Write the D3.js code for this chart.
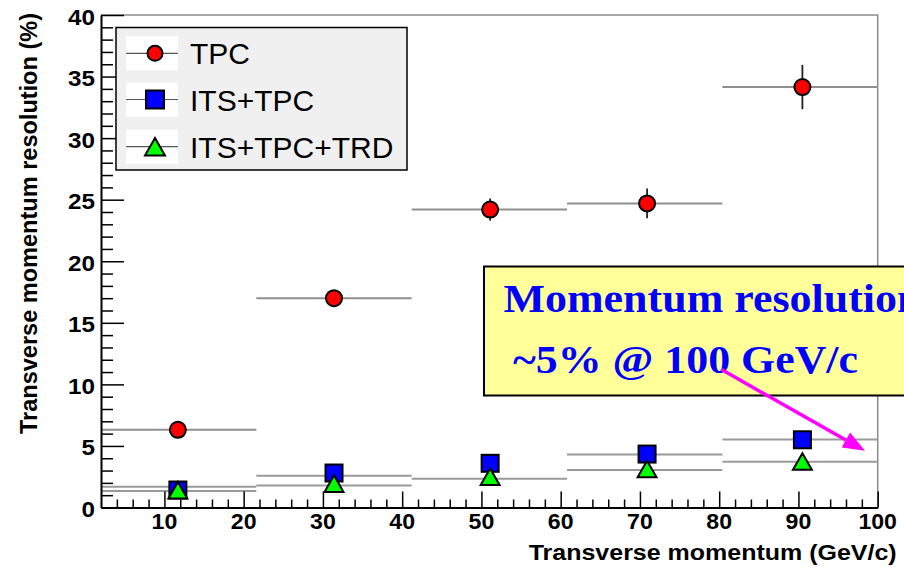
<!DOCTYPE html>
<html><head><meta charset="utf-8">
<script src="https://cdn.jsdelivr.net/npm/d3@7"></script>
<style>html,body{margin:0;padding:0;background:#fff;overflow:hidden}</style>
</head><body>
<svg id="chart" width="904" height="567"></svg>
<script>
// pT bins and point positions (GeV/c)
const binEdges = [2, 21.6, 41.2, 60.8, 80.4, 100];
const ptCenters = [11.7, 31.4, 51.1, 70.9, 90.5];
const seriesNames = ["TPC", "ITS+TPC", "ITS+TPC+TRD"];
// resolution (%) per bin
const tpcValues = [6.31, 17.0, 24.2, 24.7, 34.15];
const tpcErrors = [0.4, 0.5, 0.9, 1.2, 1.8];
const itsTpcValues = [1.42, 2.80, 3.59, 4.34, 5.50];
const itsTpcBinLevels = [1.69, 2.57, null, 4.31, 5.52];
const trdValues = [1.40, 1.94, 2.49, 3.12, 3.74];
const trdBinLevels = [1.34, 1.79, 2.34, 3.04, 3.71];
const xTickLabels = [10, 20, 30, 40, 50, 60, 70, 80, 90, 100];
const yTickLabels = [0, 5, 10, 15, 20, 25, 30, 35, 40];
const xMinorTicks = d3.range(4, 100, 2).filter(v => v % 10 !== 0);
const yMinorTicks = d3.range(1, 40, 1).filter(v => v % 5 !== 0);
const noteLines = ["Momentum resolution", "~5% @ 100 GeV/c"];
const arrowFrom = [80.3, 11.2];
const arrowTo = [98.4, 4.6];

const SANS = "'Liberation Sans', Arial, Helvetica, sans-serif";
const SERIF = "'Liberation Serif', 'Times New Roman', serif";

const svg = d3.select("#chart");
const defs = svg.append("defs");
const x = d3.scaleLinear().domain([2, 100]).range([101, 877.7]);
const y = d3.scaleLinear().domain([0, 40]).range([507.5, 15]);

// frame (top and right edges)
svg.append("path")
  .attr("d", `M${x(2)},${y(40)}H${x(100)}V${y(0)}`)
  .attr("fill", "none").attr("stroke", "#8a8a8a").attr("stroke-width", 1.5);

// horizontal bin-width bars
const binLines = [];
[[tpcValues, "#8f8f8f"], [itsTpcBinLevels, "#9a9a9a"], [trdBinLevels, "#9a9a9a"]].forEach(([vals, col]) => {
  vals.forEach((v, i) => { if (v != null) binLines.push({x0: binEdges[i], x1: binEdges[i + 1], v, col}); });
});
svg.append("g").selectAll("line").data(binLines).join("line")
  .attr("x1", d => x(d.x0)).attr("x2", d => x(d.x1))
  .attr("y1", d => y(d.v)).attr("y2", d => y(d.v))
  .attr("stroke", d => d.col).attr("stroke-width", 2);

// vertical error bars for TPC
svg.append("g").selectAll("line").data(tpcValues).join("line")
  .attr("x1", (d, i) => x(ptCenters[i])).attr("x2", (d, i) => x(ptCenters[i]))
  .attr("y1", (d, i) => y(d - tpcErrors[i])).attr("y2", (d, i) => y(d + tpcErrors[i]))
  .attr("stroke", "#222").attr("stroke-width", 1.8);

// marker shapes
function drawMarker(g, kind, cx, cy, s) {
  if (kind === 0) {
    g.append("circle").attr("cx", cx).attr("cy", cy).attr("r", s)
      .attr("fill", "#ff0000").attr("stroke", "#000").attr("stroke-width", 2);
  } else if (kind === 1) {
    g.append("rect").attr("x", cx - s).attr("y", cy - s).attr("width", 2 * s).attr("height", 2 * s)
      .attr("fill", "#0000ff").attr("stroke", "#000").attr("stroke-width", 2);
  } else {
    const w = s * 1.05, h = s * 0.92;
    g.append("path").attr("d", `M${cx},${cy - h}L${cx + w},${cy + h}L${cx - w},${cy + h}Z`)
      .attr("fill", "#00ff00").attr("stroke", "#000").attr("stroke-width", 2).attr("stroke-linejoin", "miter");
  }
}
const markers = svg.append("g");
tpcValues.forEach((v, i) => drawMarker(markers, 0, x(ptCenters[i]), y(v), 8));
itsTpcValues.forEach((v, i) => drawMarker(markers, 1, x(ptCenters[i]), y(v), 8.5));
trdValues.forEach((v, i) => drawMarker(markers, 2, x(ptCenters[i]), y(v), 9));

// x axis: minor and major ticks pointing up
const xMinor = svg.append("g").attr("transform", `translate(0,${y(0)})`)
  .call(d3.axisBottom(x).tickValues(xMinorTicks).tickSize(-8).tickSizeOuter(0).tickFormat(""));
xMinor.select(".domain").remove();
xMinor.selectAll(".tick line").attr("stroke", "#000").attr("stroke-width", 1.5);

const xAx = svg.append("g").attr("transform", `translate(0,${y(0)})`)
  .call(d3.axisBottom(x).tickValues(xTickLabels).tickSize(-16).tickSizeOuter(0));
xAx.select(".domain").attr("stroke", "#000").attr("stroke-width", 2);
xAx.selectAll(".tick line").attr("stroke", "#000").attr("stroke-width", 1.5);
xAx.selectAll(".tick text").remove();

// x tick labels, cut off along the lower edge of the label band
defs.append("clipPath").attr("id", "xlabclip")
  .append("rect").attr("x", 0).attr("y", 0).attr("width", 904).attr("height", 529.5);
svg.append("g").attr("clip-path", "url(#xlabclip)").selectAll("text").data(xTickLabels).join("text")
  .attr("transform", d => `translate(${x(d)},${y(0) + 6}) scale(1.05,1)`)
  .attr("dy", "0.72em")
  .attr("text-anchor", "middle").attr("font-family", SANS).attr("font-weight", "bold")
  .attr("font-size", 22).attr("fill", "#000").text(d => d);

// y axis: minor and major ticks pointing right
const yMinor = svg.append("g").attr("transform", `translate(${x(2)},0)`)
  .call(d3.axisLeft(y).tickValues(yMinorTicks).tickSize(-12).tickSizeOuter(0).tickFormat(""));
yMinor.select(".domain").remove();
yMinor.selectAll(".tick line").attr("stroke", "#000").attr("stroke-width", 1.5);
const yAx = svg.append("g").attr("transform", `translate(${x(2)},0)`)
  .call(d3.axisLeft(y).tickValues(yTickLabels).tickSize(-23).tickSizeOuter(0));
yAx.select(".domain").attr("stroke", "#000").attr("stroke-width", 2);
yAx.selectAll(".tick line").attr("stroke", "#000").attr("stroke-width", 1.5);
yAx.selectAll(".tick text")
  .attr("x", null).attr("dy", "0.41em")
  .attr("transform", "translate(-6,0) scale(1.1,1)")
  .attr("text-anchor", "end")
  .attr("font-family", SANS).attr("font-weight", "bold")
  .attr("font-size", 22).attr("fill", "#000");

// axis titles
svg.append("text").attr("x", 896.7).attr("y", 559.5).attr("text-anchor", "end")
  .attr("font-family", SANS).attr("font-weight", "bold").attr("font-size", 22)
  .attr("textLength", 368).attr("lengthAdjust", "spacingAndGlyphs")
  .text("Transverse momentum (GeV/c)");
svg.append("text").attr("transform", "translate(37,13) rotate(-90)").attr("text-anchor", "end")
  .attr("font-family", SANS).attr("font-weight", "bold").attr("font-size", 23)
  .attr("textLength", 421).attr("lengthAdjust", "spacingAndGlyphs")
  .text("Transverse momentum resolution (%)");

// legend
const leg = svg.append("g");
leg.append("rect").attr("x", 116).attr("y", 27.5).attr("width", 291).attr("height", 142.5)
  .attr("fill", "#f0f0f0").attr("stroke", "#000").attr("stroke-width", 1.5);
const legRows = [53.3, 99.5, 146.7];
seriesNames.forEach((name, i) => {
  const cy = legRows[i];
  leg.append("rect").attr("x", 126).attr("y", cy - 17).attr("width", 52).attr("height", 34).attr("fill", "#fff");
  leg.append("line").attr("x1", 126).attr("x2", 178).attr("y1", cy).attr("y2", cy)
    .attr("stroke", "#555").attr("stroke-width", 1.2);
  drawMarker(leg, i, 155, cy, i === 0 ? 7.5 : (i === 1 ? 9 : 9.5));
  leg.append("text").attr("x", 190).attr("y", cy + 11).attr("font-family", SANS)
    .attr("font-size", 30).attr("fill", "#000").text(name);
});

// annotation box
svg.append("rect").attr("x", 484).attr("y", 266.5).attr("width", 440).attr("height", 129)
  .attr("fill", "#ffff99").attr("stroke", "#000").attr("stroke-width", 2);
svg.append("text").attr("x", 503.5).attr("y", 311.5).attr("font-family", SERIF).attr("font-weight", "bold")
  .attr("font-size", 40).attr("fill", "#0000ff")
  .attr("textLength", 418).attr("lengthAdjust", "spacingAndGlyphs").text(noteLines[0]);
svg.append("text").attr("x", 513).attr("y", 373.3).attr("font-family", SERIF).attr("font-weight", "bold")
  .attr("font-size", 40).attr("fill", "#0000ff")
  .attr("textLength", 345).attr("lengthAdjust", "spacingAndGlyphs").text(noteLines[1]);

// arrow
const ax0 = x(arrowFrom[0]), ay0 = y(arrowFrom[1]), ax1 = x(arrowTo[0]), ay1 = y(arrowTo[1]);
const ang = Math.atan2(ay1 - ay0, ax1 - ax0), hl = 22, hw = 8.5;
const bx = ax1 - hl * Math.cos(ang), by = ay1 - hl * Math.sin(ang);
svg.append("line").attr("x1", ax0).attr("y1", ay0).attr("x2", bx).attr("y2", by)
  .attr("stroke", "#ff00ff").attr("stroke-width", 3.5);
svg.append("path")
  .attr("d", `M${ax1},${ay1}L${bx - hw * Math.sin(ang)},${by + hw * Math.cos(ang)}L${bx + hw * Math.sin(ang)},${by - hw * Math.cos(ang)}Z`)
  .attr("fill", "#ff00ff");
</script>
</body></html>
